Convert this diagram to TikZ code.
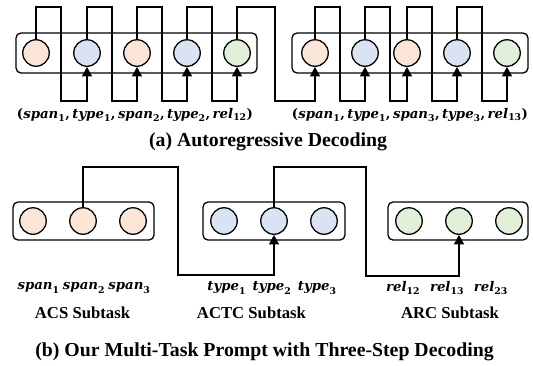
\documentclass[tikz,border=0pt]{standalone}
\usepackage{amsmath}
\usepackage{fontspec}
\setmainfont{Liberation Serif}
\newfontfamily\dvbi{DejaVu Serif}[BoldFont={* Bold},ItalicFont={* Italic},BoldItalicFont={* Bold Italic}]
\newcommand{\tkn}[2]{\text{\dvbi\bfseries\itshape #1}_{\text{\dvbi\bfseries #2}}}
\newcommand{\tkp}[1]{\text{\dvbi\bfseries #1}}
\newcommand{\tkc}{\tkp{,}\,}
\usetikzlibrary{arrows.meta}
\definecolor{peach}{HTML}{FBE5D6}
\definecolor{lblue}{HTML}{DAE3F3}
\definecolor{lgreen}{HTML}{E2F0D9}
\tikzset{
  tok/.style={circle,draw=black,line width=1.3pt,minimum size=26.5pt,inner sep=0pt},
  grp/.style={rectangle,draw=black,line width=1.3pt,rounded corners=5pt,inner sep=0pt},
  wire/.style={draw=black,line width=1.3pt},
  arr/.style={wire,-{Triangle[width=10pt,length=9.5pt]}},
  mlab/.style={inner sep=0pt,font=\fontsize{13.3}{15}\selectfont},
  sublab/.style={inner sep=0pt,font=\fontsize{16.7}{19}\selectfont\bfseries},
  captext/.style={inner sep=0pt,font=\fontsize{19.8}{22}\selectfont\bfseries}
}
\begin{document}
\begin{tikzpicture}[x=1pt,y=-1pt]
\useasboundingbox (0,0) rectangle (533,365);
% (a) boxes
\node[grp,minimum width=241pt,minimum height=40pt] (boxL) at (136.5,53) {};
\node[grp,minimum width=236pt,minimum height=40pt] (boxR) at (410,53) {};
% (a) tokens
\node[tok,fill=peach]  (a1) at (36,53) {};
\node[tok,fill=lblue]  (a2) at (87,53) {};
\node[tok,fill=peach]  (a3) at (137,53) {};
\node[tok,fill=lblue]  (a4) at (187,53) {};
\node[tok,fill=lgreen] (a5) at (237,53) {};
\node[tok,fill=peach]  (a6) at (315,53) {};
\node[tok,fill=lblue]  (a7) at (365,53) {};
\node[tok,fill=peach]  (a8) at (407,53) {};
\node[tok,fill=lblue]  (a9) at (457,53) {};
\node[tok,fill=lgreen] (a10) at (507,53) {};
% (a) wires
\foreach \i/\j/\w in {1/2/61,2/3/112,3/4/162,4/5/212,5/6/275,6/7/340,7/8/390,8/9/432,9/10/482}{
  \draw[arr] (a\i.north) -- (a\i.north |- 0,7) -- (\w,7) -- (\w,101) -- (a\j.south |- 0,101) -- (a\j.south);
}
% (a) labels
\node[mlab] (la) at (135,115) {$\tkp{(}\tkn{span}{1}\tkc\tkn{type}{1}\tkc\tkn{span}{2}\tkc\tkn{type}{2}\tkc\tkn{rel}{12}\tkp{)}$};
\node[mlab] (lb) at (410,115) {$\tkp{(}\tkn{span}{1}\tkc\tkn{type}{1}\tkc\tkn{span}{3}\tkc\tkn{type}{3}\tkc\tkn{rel}{13}\tkp{)}$};
\node[captext] (capa) at (268,142) {(a) Autoregressive Decoding};
% (b) boxes
\node[grp,minimum width=141pt,minimum height=38pt] (acs) at (83.5,221) {};
\node[grp,minimum width=142pt,minimum height=38pt] (actc) at (274,221) {};
\node[grp,minimum width=140pt,minimum height=38pt] (arc) at (458,221) {};
\node[tok,fill=peach]  (s1) at (33,221) {};
\node[tok,fill=peach]  (s2) at (83,221) {};
\node[tok,fill=peach]  (s3) at (133,221) {};
\node[tok,fill=lblue]  (t1) at (224,221) {};
\node[tok,fill=lblue]  (t2) at (274,221) {};
\node[tok,fill=lblue]  (t3) at (324,221) {};
\node[tok,fill=lgreen] (r1) at (409,221) {};
\node[tok,fill=lgreen] (r2) at (459,221) {};
\node[tok,fill=lgreen] (r3) at (509,221) {};
% (b) wires
\draw[arr] (s2.north) -- (s2.north |- 0,167) -- (178,167) -- (178,275) -- (t2.south |- 0,275) -- (t2.south);
\draw[arr] (t2.north) -- (t2.north |- 0,167) -- (366,167) -- (366,276) -- (r2.south |- 0,276) -- (r2.south);
% (b) labels
\node[mlab] (ls) at (84,288) {$\tkn{span}{1}\ \tkn{span}{2}\ \tkn{span}{3}$};
\node[mlab] (lt) at (272,288) {$\tkn{type}{1}\ \ \tkn{type}{2}\ \ \tkn{type}{3}$};
\node[mlab] (lr) at (447,288) {$\tkn{rel}{12}\ \ \ \tkn{rel}{13}\ \ \ \tkn{rel}{23}$};
\node[sublab] (acsl) at (82.5,313) {ACS Subtask};
\node[sublab] (actcl) at (251.5,313) {ACTC Subtask};
\node[sublab] (arcl) at (450,313) {ARC Subtask};
\node[captext] (capb) at (264.5,352) {(b) Our Multi-Task Prompt with Three-Step Decoding};
\end{tikzpicture}
\end{document}
